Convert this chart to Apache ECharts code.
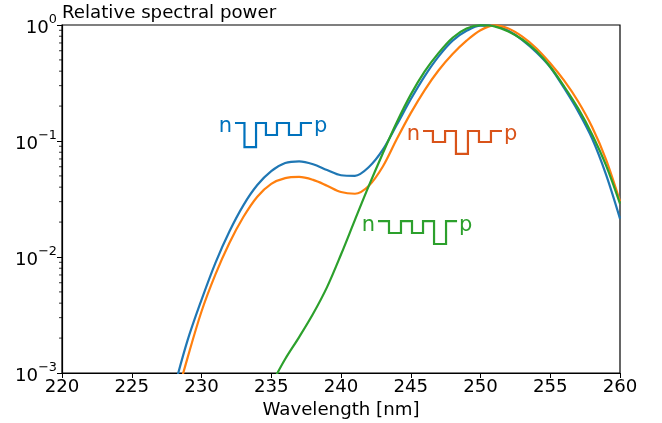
<!DOCTYPE html>
<html>
<head>
<meta charset="utf-8">
<style>
  html, body { margin: 0; padding: 0; background: #fff; }
  #chart { width: 662px; height: 423px; }
</style>
<script src="https://cdn.jsdelivr.net/npm/echarts@6/dist/echarts.min.js"></script>
</head>
<body>
<div id="chart"></div>
<script>
const blueX = [228, 229, 230, 231, 232, 233, 234, 235, 236, 237, 238, 239, 240, 241, 242, 243, 244, 245, 246, 247, 248, 249, 250, 251, 252, 253, 254, 255, 256, 257, 258, 259, 260];
const blueY = [0.000708, 0.00191, 0.00427, 0.00891, 0.0166, 0.0279, 0.0417, 0.055, 0.0646, 0.0668, 0.0631, 0.0562, 0.0507, 0.0501, 0.0596, 0.0841, 0.138, 0.229, 0.363, 0.537, 0.733, 0.891, 0.989, 0.982, 0.891, 0.741, 0.582, 0.432, 0.285, 0.18, 0.105, 0.0513, 0.0214];

const orangeX = [228, 229, 230, 231, 232, 233, 234, 235, 236, 237, 238, 239, 240, 241, 242, 243, 244, 245, 246, 247, 248, 249, 250, 251, 252, 253, 254, 255, 256, 257, 258, 259, 260];
const orangeY = [0.0005, 0.00135, 0.00339, 0.00708, 0.0132, 0.0221, 0.0331, 0.0427, 0.0479, 0.049, 0.0462, 0.0412, 0.0363, 0.0351, 0.0412, 0.0603, 0.104, 0.174, 0.275, 0.407, 0.562, 0.733, 0.902, 0.993, 0.933, 0.794, 0.631, 0.468, 0.331, 0.219, 0.132, 0.0692, 0.0302];

const greenX = [235, 236, 237, 238, 239, 240, 241, 242, 243, 244, 245, 246, 247, 248, 249, 250, 251, 252, 253, 254, 255, 256, 257, 258, 259, 260];
const greenY = [0.000794, 0.00132, 0.00204, 0.00324, 0.0055, 0.0105, 0.0209, 0.0412, 0.0785, 0.145, 0.251, 0.398, 0.575, 0.776, 0.933, 0.995, 0.973, 0.881, 0.75, 0.596, 0.437, 0.295, 0.191, 0.114, 0.0617, 0.0288];

// band diagrams drawn as step lines
const wellBlueX = [232.4, 233.08, 233.91, 234.62, 235.41, 236.27, 237.13, 237.92];
const wellBlueY = [0.143, 0.0887, 0.143, 0.1127, 0.143, 0.1127, 0.143, 0.143];
const wellRedX = [245.88, 246.59, 247.46, 248.24, 249.1, 249.89, 250.75, 251.54];
const wellRedY = [0.122, 0.098, 0.122, 0.0773, 0.122, 0.098, 0.122, 0.122];
const wellGreenX = [242.65, 243.44, 244.3, 245.09, 245.88, 246.67, 247.53, 248.32];
const wellGreenY = [0.0204, 0.0161, 0.0204, 0.0161, 0.0204, 0.01294, 0.0204, 0.0204];

const yTickExponents = { 1: "0", 0.1: "−1", 0.01: "−2", 0.001: "−3" };
const minorTickValues = [
  0.002, 0.003, 0.004, 0.005, 0.006, 0.007, 0.008, 0.009,
  0.02, 0.03, 0.04, 0.05, 0.06, 0.07, 0.08, 0.09,
  0.2, 0.3, 0.4, 0.5, 0.6, 0.7, 0.8, 0.9,
];

const FONT = "DejaVu Sans";

function zip(xs, ys) {
  return xs.map((x, i) => [x, ys[i]]);
}

function curve(name, xs, ys, color, z) {
  return {
    name: name,
    type: "line",
    data: zip(xs, ys),
    smooth: 0.33,
    showSymbol: false,
    z: z,
    lineStyle: { color: color, width: 2.2 },
    itemStyle: { color: color },
  };
}

function well(name, xs, ys, color) {
  const last = xs.length - 1;
  return {
    name: name,
    type: "line",
    step: "end",
    symbol: "circle",
    symbolSize: 0,
    showSymbol: true,
    showAllSymbol: true,
    z: 5,
    lineStyle: { color: color, width: 2.2, join: "miter" },
    itemStyle: { color: color },
    data: zip(xs, ys).map((p, i) => {
      if (i !== 0 && i !== last) return { value: p };
      return {
        value: p,
        label: {
          show: true,
          position: i === 0 ? "left" : "right",
          distance: i === 0 ? 3 : 2,
          offset: [0, 4],
          formatter: i === 0 ? "n" : "p",
          color: color,
          fontFamily: FONT,
          fontSize: 21,
        },
      };
    }),
  };
}

const chart = echarts.init(document.getElementById("chart"), null, { renderer: "canvas" });

chart.setOption({
  animation: false,
  backgroundColor: "#fff",
  title: {
    text: "Relative spectral power",
    left: 57,
    top: -1,
    textStyle: { fontFamily: FONT, fontSize: 18.2, fontWeight: "normal", color: "#000" },
  },
  grid: {
    left: 62,
    top: 25,
    right: 42,
    bottom: 50,
    outerBoundsMode: "none",
    show: true,
    backgroundColor: "#fff",
    borderColor: "#000",
    borderWidth: 1.2,
  },
  xAxis: {
    type: "value",
    min: 220,
    max: 260,
    interval: 5,
    name: "Wavelength [nm]",
    nameLocation: "middle",
    nameGap: 28,
    nameTextStyle: { fontFamily: FONT, fontSize: 18.2, color: "#000" },
    splitLine: { show: false },
    axisLine: { show: true, onZero: false, lineStyle: { color: "#000", width: 1.2 } },
    axisTick: { show: true, length: 5, lineStyle: { color: "#000", width: 1 } },
    axisLabel: {
      margin: 5,
      color: "#000",
      fontFamily: FONT,
      fontSize: 18.2,
    },
  },
  yAxis: {
    type: "log",
    logBase: 10,
    min: 0.001,
    max: 1,
    splitLine: { show: false },
    axisLine: { show: true, lineStyle: { color: "#000", width: 1.2 } },
    axisTick: { show: true, length: 5, lineStyle: { color: "#000", width: 1 } },
    axisLabel: {
      margin: 5,
      formatter: function (value) {
        const key = Number(value.toPrecision(1));
        return "{b|10}{s|" + yTickExponents[key] + "}";
      },
      rich: {
        b: { fontFamily: FONT, fontSize: 18.2, color: "#000", lineHeight: 24, verticalAlign: "bottom" },
        s: { fontFamily: FONT, fontSize: 12.8, color: "#000", lineHeight: 24, verticalAlign: "top" },
      },
    },
  },
  series: [
    curve("blue", blueX, blueY, "#1f77b4", 2),
    curve("orange", orangeX, orangeY, "#ff7f0e", 3),
    curve("green", greenX, greenY, "#2ca02c", 4),
    well("wellBlue", wellBlueX, wellBlueY, "#0072bd"),
    well("wellRed", wellRedX, wellRedY, "#d95319"),
    well("wellGreen", wellGreenX, wellGreenY, "#2ca02c"),
    {
      // log minor ticks, the built in ones are not spaced logarithmically
      name: "minorTicks",
      type: "custom",
      silent: true,
      clip: false,
      encode: { x: 0, y: 1 },
      data: minorTickValues.map((v) => [220, v]),
      renderItem: function (params, api) {
        const p = api.coord([api.value(0), api.value(1)]);
        return {
          type: "line",
          shape: { x1: p[0] - 3, y1: p[1], x2: p[0], y2: p[1] },
          style: { stroke: "#000", lineWidth: 0.8 },
        };
      },
    },
  ],
});
</script>
</body>
</html>
